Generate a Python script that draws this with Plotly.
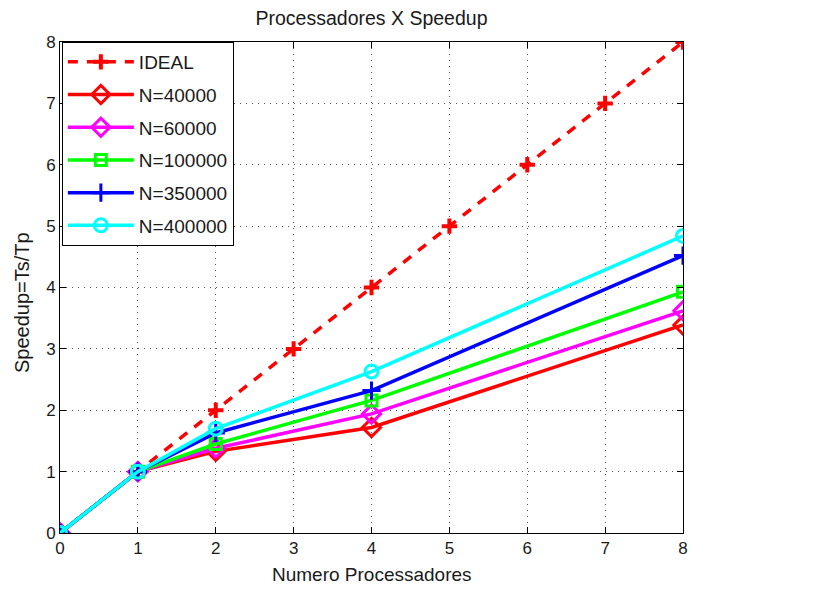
import plotly.graph_objects as go

ideal_x = [0, 1, 2, 3, 4, 5, 6, 7, 8]
ideal_y = [0, 1, 2, 3, 4, 5, 6, 7, 8]

procs = [0, 1, 2, 4, 8]
n40000 = [0, 1, 1.33, 1.72, 3.39]
n60000 = [0, 1, 1.38, 1.94, 3.62]
n100000 = [0, 1, 1.45, 2.16, 3.93]
n350000 = [0, 1, 1.63, 2.32, 4.52]
n400000 = [0, 1, 1.70, 2.63, 4.84]

x_ticks = [0, 1, 2, 3, 4, 5, 6, 7, 8]
y_ticks = [0, 1, 2, 3, 4, 5, 6, 7, 8]

font = "Liberation Sans, Arial, sans-serif"
txt = "#1a1a1a"

fig = go.Figure()
fig.add_trace(go.Scatter(
    x=ideal_x, y=ideal_y, name="IDEAL", mode="lines+markers", legendgroup="a",
    line=dict(color="#ff0000", width=3.5, dash="10px,9px"),
    marker=dict(symbol="cross-thin", size=11, line=dict(color="#ff0000", width=4))))

series = [
    ("N=40000", n40000, "#ff0000", "diamond-open", 14),
    ("N=60000", n60000, "#ff00ff", "diamond-open", 14),
    ("N=100000", n100000, "#00ff00", "square-open", 11),
    ("N=350000", n350000, "#0000ff", "cross-thin", 13),
    ("N=400000", n400000, "#00ffff", "circle-open", 13),
]
for name, ys, col, sym, sz in series:
    fig.add_trace(go.Scatter(
        x=procs, y=ys, name=name, mode="lines+markers", legendgroup=name,
        line=dict(color=col, width=3.5),
        marker=dict(symbol=sym, size=sz, color=col, line=dict(color=col, width=3))))

axis_common = dict(
    showline=True, linecolor="black", linewidth=1, mirror="ticks",
    ticks="inside", ticklen=6, tickcolor="black", automargin=False,
    showgrid=True, gridcolor="#555555", griddash="1px,5px", gridwidth=1,
    zeroline=False, tickfont=dict(family=font, size=17, color=txt),
)

fig.update_layout(
    width=828, height=581,
    margin=dict(l=52, r=153, t=34, b=56),
    paper_bgcolor="white", plot_bgcolor="white",
    title=dict(text="Processadores X Speedup", x=0.5, xref="paper", xanchor="center",
               y=1 - 10 / 581, yref="container", yanchor="middle",
               font=dict(family=font, size=19.5, color=txt)),
    xaxis=dict(range=[0, 8], tickvals=x_ticks, **axis_common),
    yaxis=dict(range=[0, 8], tickvals=y_ticks, **axis_common),
    annotations=[
        dict(text="Speedup=Ts/Tp", xref="paper", yref="paper",
             x=-0.061, y=0.4705, xanchor="center", yanchor="middle",
             textangle=-90, showarrow=False,
             font=dict(family=font, size=20, color=txt)),
        dict(text="Numero Processadores", xref="paper", yref="paper",
             x=0.5, y=-0.0855, xanchor="center", yanchor="middle",
             showarrow=False, font=dict(family=font, size=19, color=txt)),
    ],
    legend=dict(x=0.003, y=1.0, xanchor="left", yanchor="top",
                bgcolor="white", bordercolor="black", borderwidth=1,
                font=dict(family=font, size=19, color=txt),
                itemwidth=66, tracegroupgap=5),
    showlegend=True,
)

fig.write_html("out.html")
